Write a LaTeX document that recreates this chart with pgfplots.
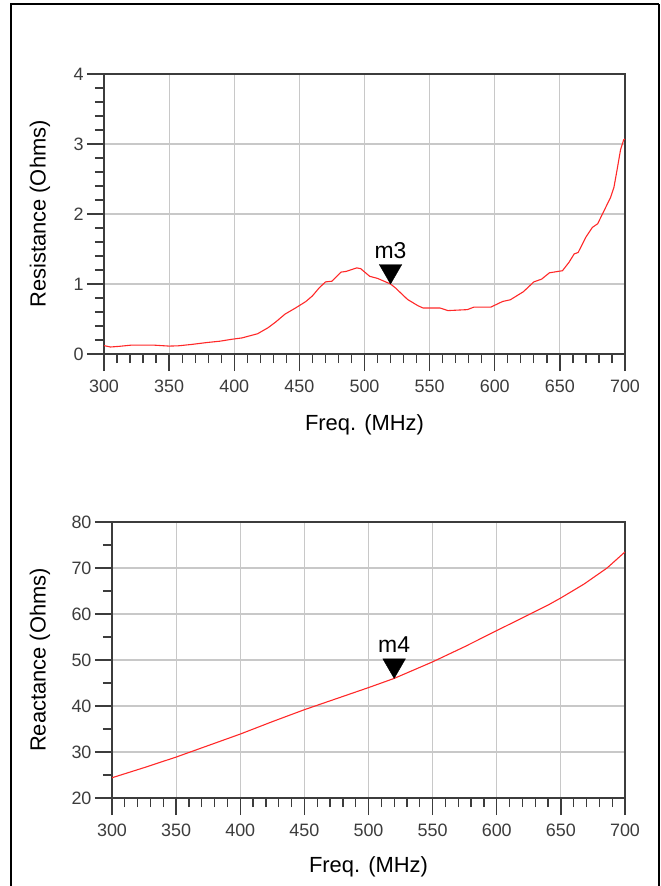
\documentclass[border=0pt]{standalone}
\usepackage{pgfplots}
\pgfplotsset{compat=1.18}
\usepackage{fontspec}
\setmainfont{Liberation Sans}

\definecolor{axisgray}{RGB}{60,60,60}
\definecolor{gridgray}{RGB}{200,200,200}
\definecolor{trace}{RGB}{255,40,40}

\pgfplotsset{
  adsplot/.style={
    scale only axis,
    xmin=300, xmax=700,
    xtick={300,350,...,700},
    minor x tick num=4,
    grid=major,
    major grid style={gridgray, line width=1.2bp},
    axis line style={axisgray, line width=1.5bp},
    tick align=outside,
    xtick pos=left, ytick pos=left,
    major tick length=17bp,
    minor tick length=9bp,
    tick style={axisgray, line width=1.3bp},
    tick label style={font=\fontsize{18}{18}\selectfont, text=axisgray},
    xticklabel style={yshift=-5bp},
    /pgf/number format/assume math mode=true,
    label style={font=\fontsize{22}{22}\selectfont},
    xlabel={Freq. (MHz)},
  },
  marker/.style={
    black, only marks, mark=triangle*, mark size=13bp,
    mark options={yshift=13bp, rotate=180, fill=black},
    nodes near coords={#1},
    every node near coord/.style={anchor=base, yshift=13bp, inner sep=0pt,
      font=\fontsize{23}{23}\selectfont, text=black},
  },
}

\begin{document}
\begin{tikzpicture}

% Resistance
\begin{axis}[adsplot,
    at={(104bp,-354bp)}, anchor=south west,
    width=521bp, height=280bp,
    ymin=0, ymax=4, ytick={0,1,...,4}, minor y tick num=4,
    ylabel={Resistance (Ohms)},
    xlabel style={at={(axis description cs:0.5,-0.2536)}, anchor=center},
    ylabel style={at={(axis description cs:-0.1228,0.5)}, anchor=center},
  ]
\addplot[trace, line width=1.1bp, mark=none] coordinates {
  (300,0.12) (305,0.10) (312,0.11) (321,0.127) (338,0.127) (350,0.113)
  (357,0.117) (367,0.136) (379,0.164) (389,0.183) (398,0.21) (406,0.23)
  (418,0.29) (426,0.376) (432,0.46) (439,0.57) (447,0.657) (455,0.75)
  (460,0.83) (465,0.94) (470,1.03) (475,1.04) (482,1.17) (486,1.18)
  (494,1.23) (497,1.22) (504,1.11) (510,1.08) (520,1.0) (524,0.94)
  (533,0.78) (541,0.69) (545,0.657) (558,0.657) (564,0.62) (579,0.634)
  (584,0.67) (597,0.67) (606,0.75) (612,0.775) (622,0.89) (630,1.03)
  (636,1.07) (642,1.16) (652,1.19) (657,1.31) (661,1.43) (664,1.45)
  (670,1.67) (675,1.81) (679,1.86) (684,2.05) (689,2.24) (691.5,2.38)
  (694,2.64) (696.6,2.92) (699,3.06) (700,3.07)
};
\addplot[marker={m3}] coordinates {(520,1.0)};
\end{axis}

% Reactance
\begin{axis}[adsplot,
    at={(112bp,-798bp)}, anchor=south west,
    width=513bp, height=276bp,
    ymin=20, ymax=80, ytick={20,30,...,80}, minor y tick num=1,
    ylabel={Reactance (Ohms)},
    xlabel style={at={(axis description cs:0.5,-0.25)}, anchor=center},
    ylabel style={at={(axis description cs:-0.1404,0.5)}, anchor=center},
  ]
\addplot[trace, line width=1.1bp, mark=none] coordinates {
  (300,24.4) (325,26.6) (350,28.9) (375,31.4) (400,33.9) (425,36.6)
  (450,39.2) (475,41.6) (500,44.0) (520,46.0) (550,49.6) (575,52.9)
  (600,56.4) (621,59.3) (641,62.1) (650,63.5) (668,66.5) (686,70.0)
  (700,73.5)
};
\addplot[marker={m4}] coordinates {(520,46.0)};
\end{axis}

% outer frame
\draw[black, line width=2.5bp] (11bp,-886bp) -- (11bp,-4bp) -- (659bp,-4bp);
\draw[black, line width=1.3bp] (659bp,-4bp) -- (659bp,-886bp);

\pgfresetboundingbox
\useasboundingbox (0bp,0bp) rectangle (661bp,-886bp);
\end{tikzpicture}
\end{document}
